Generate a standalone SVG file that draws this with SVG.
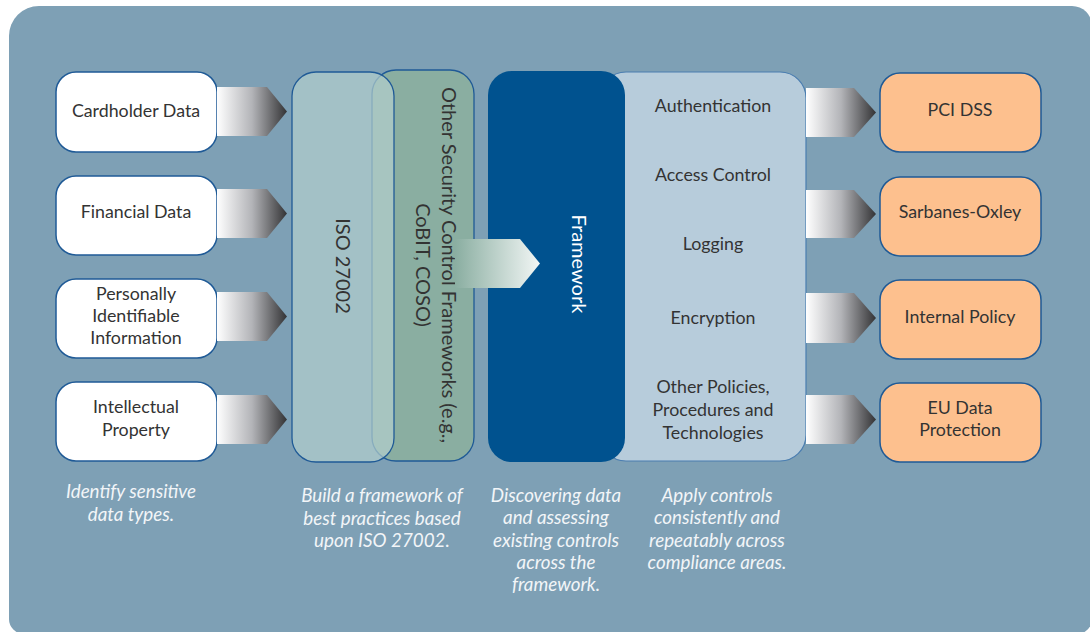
<svg xmlns="http://www.w3.org/2000/svg" width="1090" height="632" viewBox="0 0 1090 632">
<style>
.lbl{font-family:Lato,"Open Sans","Liberation Sans",sans-serif;font-size:17.8px;fill:#333333;text-anchor:middle}
.rot{font-size:20px}
.cap{font-family:Lato,"Open Sans","Liberation Sans",sans-serif;font-size:18.8px;font-style:italic;fill:#f2f5f8;text-anchor:middle}
.wbox{fill:#ffffff;stroke:#1f5a96;stroke-width:1.5}
.obox{fill:#fdc08e;stroke:#1f5a96;stroke-width:1.5}
.chev{fill:url(#gchev)}
</style>
<defs>
<linearGradient id="gchev" x1="0" y1="0" x2="1" y2="0">
<stop offset="0" stop-color="#ffffff"/>
<stop offset="0.5" stop-color="#b3b4b8"/>
<stop offset="1" stop-color="#333335"/>
</linearGradient>
<linearGradient id="gmid" x1="0" y1="0" x2="1" y2="0">
<stop offset="0" stop-color="#8aaea1"/>
<stop offset="1" stop-color="#f2f6f5"/>
</linearGradient>
</defs>
<path d="M9,36 A30,30 0 0 1 39,6 L1072,6 A20,20 0 0 1 1092,26 L1092,619 A15,15 0 0 1 1077,634 L24,634 A15,15 0 0 1 9,619 Z" fill="#7ea0b5"/>

<g id="cardholder"><rect class="wbox" x="56" y="72" width="161" height="80" rx="20"/><text class="lbl" x="136" y="117">Cardholder Data</text></g>
<g id="financial"><rect class="wbox" x="56" y="176" width="161" height="79" rx="20"/><text class="lbl" x="136" y="218">Financial Data</text></g>
<g id="pii"><rect class="wbox" x="56" y="279" width="161" height="79" rx="20"/><text class="lbl" x="136" y="300">Personally</text><text class="lbl" x="136" y="322">Identifiable</text><text class="lbl" x="136" y="344">Information</text></g>
<g id="ip"><rect class="wbox" x="56" y="382" width="161" height="79" rx="20"/><text class="lbl" x="136" y="413">Intellectual</text><text class="lbl" x="136" y="436">Property</text></g>

<g id="other-frameworks"><rect x="372" y="70" width="102" height="391" rx="24" fill="#8aaea1" stroke="#1f5a96" stroke-width="1.3"/>
<text class="lbl rot" transform="translate(442,265) rotate(90)" x="0" y="0">Other Security Control Frameworks (e.g.,</text>
<text class="lbl rot" transform="translate(416,265) rotate(90)" x="0" y="0">CoBIT, COSO)</text></g>
<g id="iso27002"><rect x="292" y="72" width="102" height="390" rx="24" fill="#b3cfcd" fill-opacity="0.7" stroke="#1f5a96" stroke-width="1.3"/>
<text class="lbl rot" transform="translate(336,266) rotate(90)" x="0" y="0">ISO 27002</text></g>

<g id="controls"><rect x="600" y="72" width="206" height="389" rx="26" fill="#b7ccdb" stroke="#4a7db0" stroke-width="1.2"/>
<text class="lbl" x="713" y="112">Authentication</text>
<text class="lbl" x="713" y="181">Access Control</text>
<text class="lbl" x="713" y="250">Logging</text>
<text class="lbl" x="713" y="324">Encryption</text>
<text class="lbl" x="713" y="393">Other Policies,</text>
<text class="lbl" x="713" y="416">Procedures and</text>
<text class="lbl" x="713" y="439">Technologies</text></g>
<g id="framework"><rect x="488" y="71" width="137" height="391" rx="24" fill="#00528f"/>
<text class="lbl rot" style="fill:#ffffff" transform="translate(572,264) rotate(90)" x="0" y="0">Framework</text></g>

<g id="pci"><rect class="obox" x="880" y="73" width="161" height="79" rx="20"/><text class="lbl" x="960" y="116">PCI DSS</text></g>
<g id="sox"><rect class="obox" x="880" y="177" width="161" height="79" rx="20"/><text class="lbl" x="960" y="218">Sarbanes-Oxley</text></g>
<g id="internal"><rect class="obox" x="880" y="280" width="161" height="79" rx="20"/><text class="lbl" x="960" y="323">Internal Policy</text></g>
<g id="eu"><rect class="obox" x="880" y="383" width="161" height="79" rx="20"/><text class="lbl" x="960" y="414">EU Data</text><text class="lbl" x="960" y="436">Protection</text></g>

<g id="connectors">
<path class="chev" d="M217,87 L267,87 L287,111.5 L267,136 L217,136 Z"/>
<path class="chev" d="M217,189 L267,189 L287,213.5 L267,238 L217,238 Z"/>
<path class="chev" d="M217,292 L267,292 L287,316.5 L267,341 L217,341 Z"/>
<path class="chev" d="M217,395 L267,395 L287,419.5 L267,444 L217,444 Z"/>
<path fill="url(#gmid)" d="M455,239 L520,239 L540,263.5 L520,288 L455,288 Z"/>
<path class="chev" d="M806,88 L854,88 L876,112.5 L854,137 L806,137 Z"/>
<path class="chev" d="M806,190 L854,190 L876,214 L854,238 L806,238 Z"/>
<path class="chev" d="M806,293 L854,293 L876,318 L854,343 L806,343 Z"/>
<path class="chev" d="M806,395 L854,395 L876,419.5 L854,444 L806,444 Z"/>
</g>

<g id="captions">
<text class="cap" x="131" y="498">Identify sensitive</text>
<text class="cap" x="131" y="521">data types.</text>
<text class="cap" x="382" y="502">Build a framework of</text>
<text class="cap" x="382" y="525">best practices based</text>
<text class="cap" x="382" y="547">upon ISO 27002.</text>
<text class="cap" x="556" y="502">Discovering data</text>
<text class="cap" x="556" y="524">and assessing</text>
<text class="cap" x="556" y="547">existing controls</text>
<text class="cap" x="556" y="569">across the</text>
<text class="cap" x="556" y="591">framework.</text>
<text class="cap" x="717" y="502">Apply controls</text>
<text class="cap" x="717" y="524">consistently and</text>
<text class="cap" x="717" y="547">repeatably across</text>
<text class="cap" x="717" y="569">compliance areas.</text>
</g>
</svg>
